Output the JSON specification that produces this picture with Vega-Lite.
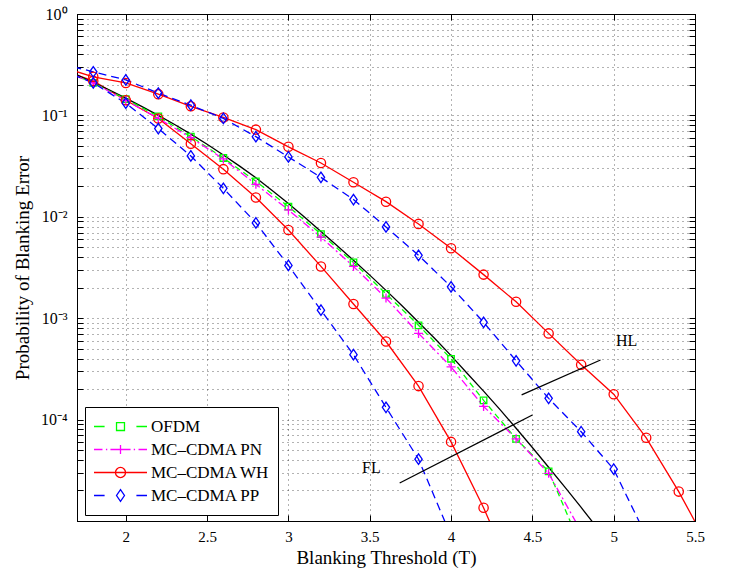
{
  "$schema": "https://vega.github.io/schema/vega-lite/v6.json",
  "width": 618,
  "height": 507,
  "autosize": {"type": "none"},
  "padding": {"left": 77, "top": 14, "right": 38, "bottom": 50},
  "background": "white",
  "config": {
    "view": {"stroke": "black", "strokeWidth": 1},
    "font": "Liberation Serif"
  },
  "datasets": {
    "curves": [
      {"s":"OFDM","c":"O","x":1.6,"y":0.282},{"s":"OFDM","c":"O","x":1.8,"y":0.209},{"s":"OFDM","c":"O","x":2.0,"y":0.145},{"s":"OFDM","c":"O","x":2.2,"y":0.0977},{"s":"OFDM","c":"O","x":2.4,"y":0.0617},{"s":"OFDM","c":"O","x":2.6,"y":0.038},{"s":"OFDM","c":"O","x":2.8,"y":0.0224},{"s":"OFDM","c":"O","x":3.0,"y":0.0126},{"s":"OFDM","c":"O","x":3.2,"y":0.00676},{"s":"OFDM","c":"O","x":3.4,"y":0.00355},{"s":"OFDM","c":"O","x":3.6,"y":0.00174},{"s":"OFDM","c":"O","x":3.8,"y":0.000851},{"s":"OFDM","c":"O","x":4.0,"y":0.000398},{"s":"OFDM","c":"O","x":4.2,"y":0.000155},{"s":"OFDM","c":"O","x":4.4,"y":0.0000646},{"s":"OFDM","c":"O","x":4.6,"y":0.0000309},{"s":"OFDM","c":"O","x":4.8,"y":0.0000056},
      {"s":"MC–CDMA PN","c":"P","x":1.6,"y":0.282},{"s":"MC–CDMA PN","c":"P","x":1.8,"y":0.209},{"s":"MC–CDMA PN","c":"P","x":2.0,"y":0.141},{"s":"MC–CDMA PN","c":"P","x":2.2,"y":0.0933},{"s":"MC–CDMA PN","c":"P","x":2.4,"y":0.0603},{"s":"MC–CDMA PN","c":"P","x":2.6,"y":0.0372},{"s":"MC–CDMA PN","c":"P","x":2.8,"y":0.0209},{"s":"MC–CDMA PN","c":"P","x":3.0,"y":0.0117},{"s":"MC–CDMA PN","c":"P","x":3.2,"y":0.00631},{"s":"MC–CDMA PN","c":"P","x":3.4,"y":0.00324},{"s":"MC–CDMA PN","c":"P","x":3.6,"y":0.00158},{"s":"MC–CDMA PN","c":"P","x":3.8,"y":0.000708},{"s":"MC–CDMA PN","c":"P","x":4.0,"y":0.000331},{"s":"MC–CDMA PN","c":"P","x":4.2,"y":0.000135},{"s":"MC–CDMA PN","c":"P","x":4.4,"y":0.0000646},{"s":"MC–CDMA PN","c":"P","x":4.6,"y":0.0000295},{"s":"MC–CDMA PN","c":"P","x":4.8,"y":0.0000079},
      {"s":"MC–CDMA WH","c":"WH","x":1.6,"y":0.302},{"s":"MC–CDMA WH","c":"WH","x":1.8,"y":0.240},{"s":"MC–CDMA WH","c":"WH","x":2.0,"y":0.209},{"s":"MC–CDMA WH","c":"WH","x":2.2,"y":0.162},{"s":"MC–CDMA WH","c":"WH","x":2.4,"y":0.123},{"s":"MC–CDMA WH","c":"WH","x":2.6,"y":0.0955},{"s":"MC–CDMA WH","c":"WH","x":2.8,"y":0.0724},{"s":"MC–CDMA WH","c":"WH","x":3.0,"y":0.049},{"s":"MC–CDMA WH","c":"WH","x":3.2,"y":0.0339},{"s":"MC–CDMA WH","c":"WH","x":3.4,"y":0.0219},{"s":"MC–CDMA WH","c":"WH","x":3.6,"y":0.0141},{"s":"MC–CDMA WH","c":"WH","x":3.8,"y":0.00851},{"s":"MC–CDMA WH","c":"WH","x":4.0,"y":0.0049},{"s":"MC–CDMA WH","c":"WH","x":4.2,"y":0.00269},{"s":"MC–CDMA WH","c":"WH","x":4.4,"y":0.00145},{"s":"MC–CDMA WH","c":"WH","x":4.6,"y":0.000708},{"s":"MC–CDMA WH","c":"WH","x":4.8,"y":0.000347},{"s":"MC–CDMA WH","c":"WH","x":5.0,"y":0.000178},{"s":"MC–CDMA WH","c":"WH","x":5.2,"y":0.0000661},{"s":"MC–CDMA WH","c":"WH","x":5.4,"y":0.0000195},{"s":"MC–CDMA WH","c":"WH","x":5.6,"y":0.000005},
      {"s":"MC–CDMA WH","c":"WF","x":1.6,"y":0.282},{"s":"MC–CDMA WH","c":"WF","x":1.8,"y":0.219},{"s":"MC–CDMA WH","c":"WF","x":2.0,"y":0.141},{"s":"MC–CDMA WH","c":"WF","x":2.2,"y":0.0933},{"s":"MC–CDMA WH","c":"WF","x":2.4,"y":0.0525},{"s":"MC–CDMA WH","c":"WF","x":2.6,"y":0.0295},{"s":"MC–CDMA WH","c":"WF","x":2.8,"y":0.0155},{"s":"MC–CDMA WH","c":"WF","x":3.0,"y":0.00741},{"s":"MC–CDMA WH","c":"WF","x":3.2,"y":0.00324},{"s":"MC–CDMA WH","c":"WF","x":3.4,"y":0.00138},{"s":"MC–CDMA WH","c":"WF","x":3.6,"y":0.000589},{"s":"MC–CDMA WH","c":"WF","x":3.8,"y":0.000214},{"s":"MC–CDMA WH","c":"WF","x":4.0,"y":0.0000603},{"s":"MC–CDMA WH","c":"WF","x":4.2,"y":0.0000135},{"s":"MC–CDMA WH","c":"WF","x":4.4,"y":0.0000025},
      {"s":"MC–CDMA PP","c":"PH","x":1.6,"y":0.324},{"s":"MC–CDMA PP","c":"PH","x":1.8,"y":0.269},{"s":"MC–CDMA PP","c":"PH","x":2.0,"y":0.224},{"s":"MC–CDMA PP","c":"PH","x":2.2,"y":0.166},{"s":"MC–CDMA PP","c":"PH","x":2.4,"y":0.126},{"s":"MC–CDMA PP","c":"PH","x":2.6,"y":0.0933},{"s":"MC–CDMA PP","c":"PH","x":2.8,"y":0.0617},{"s":"MC–CDMA PP","c":"PH","x":3.0,"y":0.0389},{"s":"MC–CDMA PP","c":"PH","x":3.2,"y":0.0245},{"s":"MC–CDMA PP","c":"PH","x":3.4,"y":0.0148},{"s":"MC–CDMA PP","c":"PH","x":3.6,"y":0.00794},{"s":"MC–CDMA PP","c":"PH","x":3.8,"y":0.00417},{"s":"MC–CDMA PP","c":"PH","x":4.0,"y":0.00204},{"s":"MC–CDMA PP","c":"PH","x":4.2,"y":0.000912},{"s":"MC–CDMA PP","c":"PH","x":4.4,"y":0.00038},{"s":"MC–CDMA PP","c":"PH","x":4.6,"y":0.000162},{"s":"MC–CDMA PP","c":"PH","x":4.8,"y":0.0000759},{"s":"MC–CDMA PP","c":"PH","x":5.0,"y":0.0000324},{"s":"MC–CDMA PP","c":"PH","x":5.2,"y":0.0000071},
      {"s":"MC–CDMA PP","c":"PF","x":1.6,"y":0.282},{"s":"MC–CDMA PP","c":"PF","x":1.8,"y":0.209},{"s":"MC–CDMA PP","c":"PF","x":2.0,"y":0.132},{"s":"MC–CDMA PP","c":"PF","x":2.2,"y":0.0741},{"s":"MC–CDMA PP","c":"PF","x":2.4,"y":0.0398},{"s":"MC–CDMA PP","c":"PF","x":2.6,"y":0.0191},{"s":"MC–CDMA PP","c":"PF","x":2.8,"y":0.00871},{"s":"MC–CDMA PP","c":"PF","x":3.0,"y":0.00331},{"s":"MC–CDMA PP","c":"PF","x":3.2,"y":0.0012},{"s":"MC–CDMA PP","c":"PF","x":3.4,"y":0.000437},{"s":"MC–CDMA PP","c":"PF","x":3.6,"y":0.000132},{"s":"MC–CDMA PP","c":"PF","x":3.8,"y":0.0000407},{"s":"MC–CDMA PP","c":"PF","x":4.0,"y":0.0000071},
      {"s":"Gaussian","c":"G","x":1.6,"y":0.302},{"s":"Gaussian","c":"G","x":1.7,"y":0.251},{"s":"Gaussian","c":"G","x":1.8,"y":0.211},{"s":"Gaussian","c":"G","x":1.9,"y":0.178},{"s":"Gaussian","c":"G","x":2.0,"y":0.148},{"s":"Gaussian","c":"G","x":2.1,"y":0.122},{"s":"Gaussian","c":"G","x":2.2,"y":0.1},{"s":"Gaussian","c":"G","x":2.3,"y":0.0813},{"s":"Gaussian","c":"G","x":2.4,"y":0.0653},{"s":"Gaussian","c":"G","x":2.5,"y":0.0519},{"s":"Gaussian","c":"G","x":2.6,"y":0.0407},{"s":"Gaussian","c":"G","x":2.7,"y":0.0316},{"s":"Gaussian","c":"G","x":2.8,"y":0.0243},{"s":"Gaussian","c":"G","x":2.9,"y":0.0182},{"s":"Gaussian","c":"G","x":3.0,"y":0.0135},{"s":"Gaussian","c":"G","x":3.1,"y":0.00989},{"s":"Gaussian","c":"G","x":3.2,"y":0.00716},{"s":"Gaussian","c":"G","x":3.3,"y":0.00519},{"s":"Gaussian","c":"G","x":3.4,"y":0.00372},{"s":"Gaussian","c":"G","x":3.5,"y":0.00266},{"s":"Gaussian","c":"G","x":3.6,"y":0.00188},{"s":"Gaussian","c":"G","x":3.7,"y":0.00132},{"s":"Gaussian","c":"G","x":3.8,"y":0.000912},{"s":"Gaussian","c":"G","x":3.9,"y":0.000631},{"s":"Gaussian","c":"G","x":4.0,"y":0.000427},{"s":"Gaussian","c":"G","x":4.1,"y":0.000285},{"s":"Gaussian","c":"G","x":4.2,"y":0.000191},{"s":"Gaussian","c":"G","x":4.3,"y":0.000126},{"s":"Gaussian","c":"G","x":4.4,"y":0.0000822},{"s":"Gaussian","c":"G","x":4.5,"y":0.0000531},{"s":"Gaussian","c":"G","x":4.6,"y":0.0000339},{"s":"Gaussian","c":"G","x":4.7,"y":0.0000216},{"s":"Gaussian","c":"G","x":4.8,"y":0.0000136},{"s":"Gaussian","c":"G","x":4.9,"y":0.0000085},{"s":"Gaussian","c":"G","x":5.0,"y":0.0000052}
    ],
    "legendrows": [
      {"s":"OFDM","x":1.0,"y":0.01},{"s":"MC–CDMA PN","x":1.0,"y":0.01},{"s":"MC–CDMA WH","x":1.0,"y":0.01},{"s":"MC–CDMA PP","x":1.0,"y":0.01}
    ],
    "notes": [
      {"label":"FL","x":3.51,"y":0.000033},
      {"label":"HL","x":5.08,"y":0.00059}
    ],
    "segs": [
      {"x":3.684,"y":0.0000237,"x2":4.50,"y2":0.000111},
      {"x":4.434,"y":0.000175,"x2":4.919,"y2":0.000387}
    ]
  },
  "resolve": {"axis": {"x": "independent", "y": "independent"}},
  "layer": [
    {
      "data": {"name": "legendrows"},
      "mark": {"type": "point", "filled": false, "clip": true, "size": 2809, "strokeWidth": 1.3},
      "encoding": {
        "x": {"field": "x", "type": "quantitative", "scale": {"domain": [1.7, 5.5], "nice": false, "zero": false}, "axis": null},
        "y": {"field": "y", "type": "quantitative", "scale": {"type": "log", "domain": [0.00001, 1], "nice": false}, "axis": null},
        "color": {
          "field": "s", "type": "nominal",
          "scale": {"domain": ["OFDM", "MC–CDMA PN", "MC–CDMA WH", "MC–CDMA PP", "Gaussian"], "range": ["#00ff00", "#ff00ff", "#ff0000", "#0000ff", "#000000"]},
          "legend": {"orient": "none", "legendX": 8, "legendY": 393, "title": null, "values": ["OFDM", "MC–CDMA PN", "MC–CDMA WH", "MC–CDMA PP"], "symbolSize": 2809, "symbolStrokeWidth": 1.3, "symbolOpacity": 1, "labelFont": "Liberation Serif", "labelFontSize": 17, "labelColor": "black", "labelOffset": 3, "strokeColor": "black", "fillColor": "white", "padding": 8, "clipHeight": 23, "rowPadding": 0, "symbolOffset": 0, "labelLimit": 300}
        },
        "shape": {
          "field": "s", "type": "nominal",
          "scale": {"domain": ["OFDM", "MC–CDMA PN", "MC–CDMA WH", "MC–CDMA PP", "Gaussian"], "range": [
            "M-1,0H-0.6M0.6,0H1M-0.15,-0.15H0.15V0.15H-0.15Z",
            "M-1,0H-0.68M-0.55,0H-0.5M-0.38,0H-0.12M0.12,0H0.38M0.5,0H0.55M0.68,0H1M-0.17,0H0.17M0,-0.17V0.17",
            "M-1,0H1M-0.19,0A0.19,0.19,0,1,0,0.19,0A0.19,0.19,0,1,0,-0.19,0Z",
            "M-1,0H-0.6M0.6,0H1M0,-0.22L0.15,0L0,0.22L-0.15,0Z",
            "M-1,0H1"
          ]},
          "legend": {"orient": "none", "legendX": 8, "legendY": 393, "title": null, "values": ["OFDM", "MC–CDMA PN", "MC–CDMA WH", "MC–CDMA PP"], "symbolSize": 2809, "symbolStrokeWidth": 1.3, "symbolOpacity": 1, "labelFont": "Liberation Serif", "labelFontSize": 17, "labelColor": "black", "labelOffset": 3, "strokeColor": "black", "fillColor": "white", "padding": 8, "clipHeight": 23, "rowPadding": 0, "symbolOffset": 0, "labelLimit": 300}
        }
      }
    },
    {
      "data": {"name": "curves"},
      "transform": [{"filter": "datum.s === 'MC–CDMA WH' || datum.s === 'Gaussian'"}],
      "mark": {"type": "line", "clip": true, "strokeWidth": 1.3},
      "encoding": {
        "x": {
          "field": "x", "type": "quantitative",
          "axis": {
            "orient": "bottom", "values": [2, 2.5, 3, 3.5, 4, 4.5, 5, 5.5], "format": "~g",
            "title": "Blanking Threshold (T)", "titleFont": "Liberation Serif", "titleFontSize": 19,
            "titleFontWeight": "normal", "titleColor": "black", "titlePadding": 4,
            "labelFont": "Liberation Serif", "labelFontSize": 15, "labelColor": "black",
            "labelPadding": 14, "tickSize": -6, "tickColor": "black", "domainColor": "black",
            "grid": true, "gridDash": [1, 4], "gridColor": "black", "gridOpacity": 0.6,
            "labelFlush": false, "labelOverlap": false
          }
        },
        "y": {
          "field": "y", "type": "quantitative",
          "axis": {
            "orient": "left",
            "values": [0.00001,0.00002,0.00003,0.00004,0.00005,0.00006,0.00007,0.00008,0.00009,0.0001,0.0002,0.0003,0.0004,0.0005,0.0006,0.0007,0.0008,0.0009,0.001,0.002,0.003,0.004,0.005,0.006,0.007,0.008,0.009,0.01,0.02,0.03,0.04,0.05,0.06,0.07,0.08,0.09,0.1,0.2,0.3,0.4,0.5,0.6,0.7,0.8,0.9,1],
            "labelExpr": "datum.value === 1 ? '10⁰' : datum.value === 0.1 ? '10⁻¹' : datum.value === 0.01 ? '10⁻²' : datum.value === 0.001 ? '10⁻³' : datum.value === 0.0001 ? '10⁻⁴' : ''",
            "title": "Probability of Blanking Error", "titleFont": "Liberation Serif", "titleFontSize": 19,
            "titleFontWeight": "normal", "titleColor": "black", "titlePadding": 8,
            "labelFont": "Liberation Serif", "labelFontSize": 16, "labelColor": "black",
            "labelPadding": 16, "tickSize": -6, "tickColor": "black", "domainColor": "black",
            "grid": true, "gridDash": [1, 4], "gridColor": "black", "gridOpacity": 0.6,
            "labelFlush": false, "labelOverlap": false
          }
        },
        "color": {"field": "s", "type": "nominal", "legend": null},
        "detail": {"field": "c", "type": "nominal"}
      }
    },
    {
      "data": {"name": "curves"},
      "transform": [{"filter": "datum.s === 'OFDM'"}],
      "mark": {"type": "line", "clip": true, "strokeWidth": 1.3, "strokeDash": [6, 4]},
      "encoding": {
        "x": {"field": "x", "type": "quantitative", "axis": null},
        "y": {"field": "y", "type": "quantitative", "axis": null},
        "color": {"field": "s", "type": "nominal", "legend": null}
      }
    },
    {
      "data": {"name": "curves"},
      "transform": [{"filter": "datum.s === 'MC–CDMA PN'"}],
      "mark": {"type": "line", "clip": true, "strokeWidth": 1.3, "strokeDash": [8, 3, 2, 3]},
      "encoding": {
        "x": {"field": "x", "type": "quantitative", "axis": null},
        "y": {"field": "y", "type": "quantitative", "axis": null},
        "color": {"field": "s", "type": "nominal", "legend": null}
      }
    },
    {
      "data": {"name": "curves"},
      "transform": [{"filter": "datum.s === 'MC–CDMA PP'"}],
      "mark": {"type": "line", "clip": true, "strokeWidth": 1.3, "strokeDash": [8, 5]},
      "encoding": {
        "x": {"field": "x", "type": "quantitative", "axis": null},
        "y": {"field": "y", "type": "quantitative", "axis": null},
        "color": {"field": "s", "type": "nominal", "legend": null},
        "detail": {"field": "c", "type": "nominal"}
      }
    },
    {
      "data": {"name": "curves"},
      "transform": [{"filter": "datum.s === 'OFDM' && datum.x >= 1.7"}],
      "mark": {"type": "point", "shape": "square", "filled": false, "size": 42, "strokeWidth": 1.3, "clip": true, "opacity": 1},
      "encoding": {
        "x": {"field": "x", "type": "quantitative", "axis": null},
        "y": {"field": "y", "type": "quantitative", "axis": null},
        "color": {"field": "s", "type": "nominal", "legend": null}
      }
    },
    {
      "data": {"name": "curves"},
      "transform": [{"filter": "datum.s === 'MC–CDMA PN' && datum.x >= 1.7"}],
      "mark": {"type": "point", "shape": "M-1,0H1M0,-1V1", "filled": false, "size": 81, "strokeWidth": 1.3, "clip": true, "opacity": 1},
      "encoding": {
        "x": {"field": "x", "type": "quantitative", "axis": null},
        "y": {"field": "y", "type": "quantitative", "axis": null},
        "color": {"field": "s", "type": "nominal", "legend": null}
      }
    },
    {
      "data": {"name": "curves"},
      "transform": [{"filter": "datum.s === 'MC–CDMA WH' && datum.x >= 1.7"}],
      "mark": {"type": "point", "shape": "circle", "filled": false, "size": 86, "strokeWidth": 1.3, "clip": true, "opacity": 1},
      "encoding": {
        "x": {"field": "x", "type": "quantitative", "axis": null},
        "y": {"field": "y", "type": "quantitative", "axis": null},
        "color": {"field": "s", "type": "nominal", "legend": null}
      }
    },
    {
      "data": {"name": "curves"},
      "transform": [{"filter": "datum.s === 'MC–CDMA PP' && datum.x >= 1.7"}],
      "mark": {"type": "point", "shape": "M0,-1L0.7,0L0,1L-0.7,0Z", "filled": false, "size": 110, "strokeWidth": 1.3, "clip": true, "opacity": 1},
      "encoding": {
        "x": {"field": "x", "type": "quantitative", "axis": null},
        "y": {"field": "y", "type": "quantitative", "axis": null},
        "color": {"field": "s", "type": "nominal", "legend": null}
      }
    },
    {
      "data": {"name": "segs"},
      "mark": {"type": "rule", "color": "black", "strokeWidth": 1.3},
      "encoding": {
        "x": {"field": "x", "type": "quantitative", "axis": null},
        "y": {"field": "y", "type": "quantitative", "axis": null},
        "x2": {"field": "x2"},
        "y2": {"field": "y2"}
      }
    },
    {
      "data": {"name": "notes"},
      "mark": {"type": "text", "font": "Liberation Serif", "fontSize": 16, "color": "black", "align": "center", "baseline": "middle"},
      "encoding": {
        "x": {
          "field": "x", "type": "quantitative",
          "axis": {"orient": "top", "values": [2, 2.5, 3, 3.5, 4, 4.5, 5, 5.5], "labels": false, "title": null, "grid": false, "tickSize": -6, "tickColor": "black", "domainColor": "black"}
        },
        "y": {
          "field": "y", "type": "quantitative",
          "axis": {"orient": "right", "values": [0.00001,0.00002,0.00003,0.00004,0.00005,0.00006,0.00007,0.00008,0.00009,0.0001,0.0002,0.0003,0.0004,0.0005,0.0006,0.0007,0.0008,0.0009,0.001,0.002,0.003,0.004,0.005,0.006,0.007,0.008,0.009,0.01,0.02,0.03,0.04,0.05,0.06,0.07,0.08,0.09,0.1,0.2,0.3,0.4,0.5,0.6,0.7,0.8,0.9,1], "labels": false, "title": null, "grid": false, "tickSize": -6, "tickColor": "black", "domainColor": "black"}
        },
        "text": {"field": "label", "type": "nominal"}
      }
    }
  ]
}
